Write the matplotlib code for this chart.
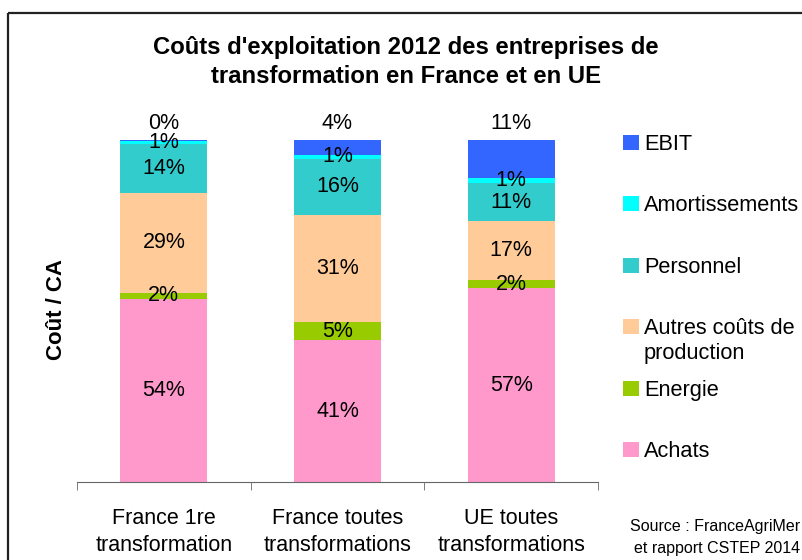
import numpy as np
import matplotlib
matplotlib.use("Agg")
import matplotlib.pyplot as plt
from matplotlib.patches import Rectangle

plt.rcParams['font.family'] = ['Liberation Sans', 'DejaVu Sans']

# Data (bottom to top of each bar)
categories = ["France 1re\ntransformation", "France toutes\ntransformations", "UE toutes\ntransformations"]
achats = [53.6, 41.4, 56.6]
energie = [1.8, 5.3, 2.4]
autres = [29.1, 31.4, 17.3]
personnel = [14.4, 16.4, 11.1]
amortissements = [0.8, 1.1, 1.4]
ebit = [0.3, 4.4, 11.2]

series_names = ["Achats", "Energie", "Autres coûts de\nproduction", "Personnel", "Amortissements", "EBIT"]
series_values = [achats, energie, autres, personnel, amortissements, ebit]
colors = ["#FF99CC", "#99CC00", "#FFCC99", "#33CCCC", "#00FFFF", "#3366FF"]

W, H = 803, 560
fig = plt.figure(figsize=(W / 100, H / 100), dpi=100)

# main axes, placed in pixel terms
ax = fig.add_axes([77 / W, 1 - 482 / H, 521 / W, 342 / H])
x = np.arange(len(categories))
bottom = np.zeros(len(categories))
for name, vals, col in zip(series_names, series_values, colors):
    vals = np.array(vals)
    ax.bar(x, vals, 0.5, bottom=bottom, color=col, linewidth=0)
    for xi, v, b in zip(x, vals, bottom):
        if name == "EBIT":
            ax.annotate(f"{v:.0f}%", (xi, b + v), xytext=(0, 12), textcoords="offset points",
                        ha="center", va="center", fontsize=15.5, annotation_clip=False)
        else:
            ax.text(xi, b + v / 2, f"{v:.0f}%", ha="center", va="center", fontsize=15.5)
    bottom += vals

ax.set_xlim(-0.5, 2.5)
ax.set_ylim(0, 100)
for s in ["left", "top", "right"]:
    ax.spines[s].set_visible(False)
ax.spines["bottom"].set_color("#666666")
ax.set_yticks([])
ax.set_xticks(x)
ax.set_xticklabels(categories, fontsize=15.5, linespacing=1.38)
ax.set_xticks([-0.5, 0.5, 1.5, 2.5], minor=True)
ax.tick_params(axis="x", which="major", length=0, pad=19)
ax.tick_params(axis="x", which="minor", length=6, color="#666666")

# overlay in pixel coordinates for title, legend, frame, source
ov = fig.add_axes([0, 0, 1, 1], zorder=5)
ov.set_xlim(0, W)
ov.set_ylim(H, 0)
ov.axis("off")
ov.patch.set_alpha(0)

ov.add_patch(Rectangle((8, 13), 900, 700, fill=False, lw=1.6, ec="#222222"))

ov.text(406, 62, "Coûts d'exploitation 2012 des entreprises de\ntransformation en France et en UE",
        ha="center", va="center", fontsize=17.2, fontweight="bold", linespacing=1.38)
ov.text(57, 310, "Coût / CA", rotation=90, ha="center", va="center", fontsize=16, fontweight="bold")

legend_y = [449, 388, 326, 265, 203, 142]
for name, col, ly in zip(series_names, colors, legend_y):
    ov.add_patch(Rectangle((623, ly - 7.5), 16, 15, color=col, lw=0))
    ov.text(644, ly - 8, name, ha="left", va="top", fontsize=15.7, linespacing=1.25)

ov.text(800, 526, "Source : FranceAgriMer", ha="right", va="center", fontsize=11.5)
ov.text(800, 548, "et rapport CSTEP 2014", ha="right", va="center", fontsize=11.5)

fig.savefig("out.png", dpi=100)
